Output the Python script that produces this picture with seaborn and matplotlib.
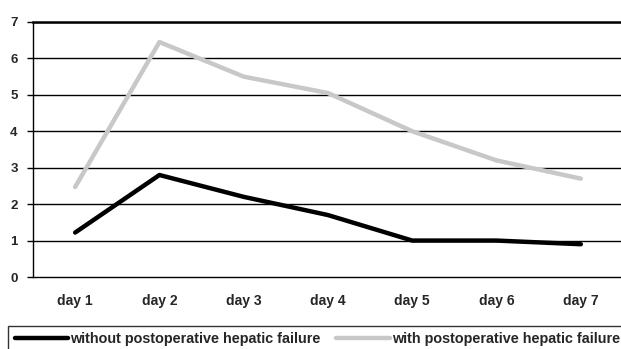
import numpy as np
import pandas as pd
import matplotlib.pyplot as plt
import seaborn as sns
from matplotlib.lines import Line2D

sns.set_style("white")
plt.rcParams["font.family"] = ["Liberation Sans", "DejaVu Sans"]
plt.rcParams["font.weight"] = "bold"

# Data
days = ["day 1", "day 2", "day 3", "day 4", "day 5", "day 6", "day 7"]
without_failure = [1.22, 2.8, 2.2, 1.7, 1.0, 1.0, 0.9]
with_failure = [2.47, 6.45, 5.5, 5.05, 4.0, 3.2, 2.7]
series_names = ["without postoperative hepatic failure",
                "with postoperative hepatic failure"]

df = pd.DataFrame({
    "day": days * 2,
    "value": without_failure + with_failure,
    "group": [series_names[0]] * len(days) + [series_names[1]] * len(days),
})

fig = plt.figure(figsize=(6.21, 3.49), dpi=100)
ax = fig.add_axes([33 / 621, 72 / 349, 590 / 621, 255 / 349])

sns.lineplot(data=df, x="day", y="value", hue="group",
             palette=["black", "#c8c8c8"], linewidth=3.2, ax=ax,
             legend=False, sort=False)

ax.set_xlim(-0.5, 6.5)
ax.set_ylim(0, 7)
ax.set_xlabel("")
ax.set_ylabel("")

# y axis
ax.set_yticks(range(0, 8))
ax.set_yticklabels([str(i) for i in range(0, 8)], fontsize=9.5, fontweight="bold")
for y in range(1, 8):
    ax.axhline(y, color="black", lw=1, zorder=0)

# x axis: labels at centres, tick marks between categories
ax.set_xticks(range(len(days)))
ax.set_xticklabels(days, fontsize=10, fontweight="bold")
ax.set_xticks(np.arange(-0.5, len(days)), minor=True)
ax.tick_params(axis="x", which="major", length=0, pad=12)
ax.tick_params(axis="x", which="minor", length=4, width=1, color="black",
               direction="out")
ax.tick_params(axis="y", length=4, width=1, color="black", direction="out",
               left=True, pad=7)

for side in ["left", "bottom", "top"]:
    ax.spines[side].set_visible(True)
    ax.spines[side].set_color("black")
ax.spines["left"].set_linewidth(1)
ax.spines["bottom"].set_linewidth(1)
ax.spines["top"].set_linewidth(1.8)
ax.spines["right"].set_visible(False)

# legend
handles = [Line2D([], [], color="black", lw=3.2),
           Line2D([], [], color="#c8c8c8", lw=3.2)]
leg = fig.legend(handles, series_names, loc="upper left",
                 bbox_to_anchor=(8 / 621, 1 - 326 / 349), ncol=2,
                 frameon=True, fancybox=False, edgecolor="black",
                 handlelength=3.7, handletextpad=0.15, columnspacing=1.1,
                 borderpad=0.45, borderaxespad=0,
                 prop={"size": 10.4, "weight": "bold"})
leg.get_frame().set_linewidth(1)

plt.savefig("out.png", dpi=100)
